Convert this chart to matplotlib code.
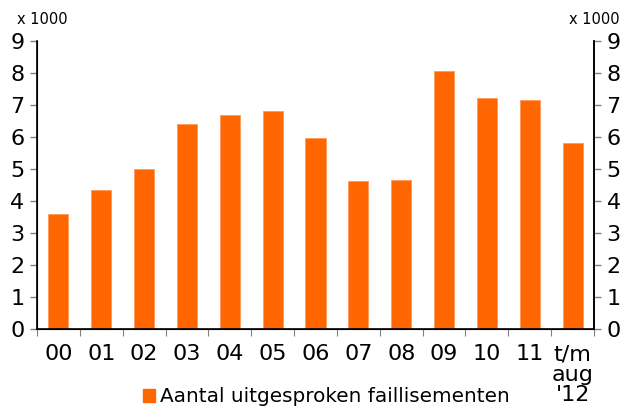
import numpy as np
import matplotlib
matplotlib.use('Agg')
import matplotlib.pyplot as plt

categories = ['00', '01', '02', '03', '04', '05', '06', '07', '08', '09', '10', '11', "t/m\naug\n'12"]
values = [3.6, 4.35, 5.0, 6.42, 6.68, 6.8, 5.97, 4.63, 4.67, 8.07, 7.23, 7.17, 5.8]
yticks = list(range(0, 10))
legend_label = 'Aantal uitgesproken faillisementen'

orange = '#FF6600'

fig = plt.figure(figsize=(6.27, 4.07), dpi=100)
ax = fig.add_axes([37 / 627, 1 - 329 / 407, (594 - 37) / 627, (329 - 41) / 407])

x = np.arange(len(categories))
ax.bar(x, values, width=0.47, color=orange, edgecolor='#FF9A5C', linewidth=0.6)

ax.set_xlim(-0.5, len(categories) - 0.5)
ax.set_ylim(0, 9)
ax.set_yticks(yticks)
ax.set_yticklabels([str(t) for t in yticks], fontsize=16)
ax.tick_params(axis='y', length=5, color='grey', width=1, pad=4)

# x ticks sit between categories, labels under the bars
ax.set_xticks(np.arange(-0.5, len(categories), 1.0))
ax.set_xticklabels([])
ax.set_xticks(x, minor=True)
ax.set_xticklabels(categories, minor=True, fontsize=16, linespacing=1.03, va='top')
ax.tick_params(axis='x', which='major', length=5, color='grey', direction='out')
ax.tick_params(axis='x', which='minor', length=0, pad=11)

ax.spines['top'].set_visible(False)
for s in ['left', 'right', 'bottom']:
    ax.spines[s].set_color('black')
    ax.spines[s].set_linewidth(1.2)

ax2 = ax.twinx()
ax2.set_ylim(0, 9)
ax2.set_yticks(yticks)
ax2.set_yticklabels([str(t) for t in yticks], fontsize=16)
ax2.tick_params(axis='y', length=5, color='grey', width=1, pad=4)
ax2.spines['top'].set_visible(False)
ax2.spines['right'].set_linewidth(1.2)

fig.text(17 / 627, 1 - 20 / 407, 'x 1000', fontsize=10.5, ha='left', va='center')
fig.text(620 / 627, 1 - 20 / 407, 'x 1000', fontsize=10.5, ha='right', va='center')

# legend
fig.patches.append(plt.Rectangle((143 / 627, 1 - 402 / 407), 12 / 627, 13 / 407,
                                 transform=fig.transFigure, color=orange, figure=fig))
fig.text(160 / 627, 1 - 396 / 407, legend_label, fontsize=14.4, ha='left', va='center')

fig.savefig('out.png', dpi=100)
